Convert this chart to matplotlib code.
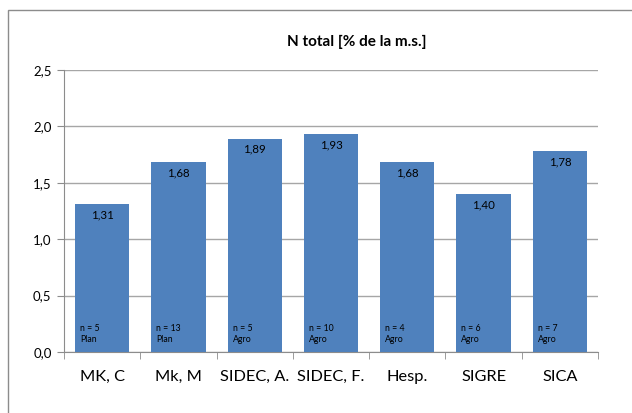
import numpy as np
import matplotlib.pyplot as plt
from matplotlib.patches import Rectangle

# data
categories = ["MK, C", "Mk, M", "SIDEC, A.", "SIDEC, F.", "Hesp.", "SIGRE", "SICA"]
values = [1.31, 1.68, 1.89, 1.93, 1.68, 1.40, 1.78]
n_samples = [5, 13, 5, 10, 4, 6, 7]
groups = ["Plan", "Plan", "Agro", "Agro", "Agro", "Agro", "Agro"]
y_ticks = [0.0, 0.5, 1.0, 1.5, 2.0, 2.5]

plt.rcParams["font.family"] = ["Lato", "DejaVu Sans"]

fig = plt.figure(figsize=(6.32, 4.13), dpi=100)
ax = fig.add_axes([64 / 632, 1 - 352 / 413, (598 - 64) / 632, (352 - 70) / 413])

# outer chart border (left/top only visible)
fig.patches.append(Rectangle((8 / 632, -0.1), 1.2, 1 - 10 / 413 + 0.1,
                             transform=fig.transFigure, fill=False,
                             edgecolor="#8c8c8c", linewidth=1.0))

x = np.arange(len(categories))
ax.bar(x, values, width=0.71, color="#4F81BD", zorder=3)

ax.set_xlim(-0.5, len(categories) - 0.5)
ax.set_ylim(0, 2.5)
ax.set_yticks(y_ticks)
ax.set_yticklabels([f"{v:.1f}".replace(".", ",") for v in y_ticks], fontsize=9.5)
ax.yaxis.grid(True, color="#a6a6a6", linewidth=1.0, zorder=0)

ax.set_xticks(x)
ax.set_xticklabels(categories, fontsize=11.8)
ax.set_xticks(np.arange(-0.5, len(categories)), minor=True)
ax.tick_params(axis="x", which="major", length=0, pad=13)
ax.tick_params(axis="x", which="minor", length=5, color="#8c8c8c", direction="out")
ax.tick_params(axis="y", length=5, color="#8c8c8c", pad=4)

for side in ["top", "right"]:
    ax.spines[side].set_visible(False)
for side in ["left", "bottom"]:
    ax.spines[side].set_color("#8c8c8c")

for xi, v, n, g in zip(x, values, n_samples, groups):
    ax.text(xi, v - 0.045, f"{v:.2f}".replace(".", ","), ha="center", va="top",
            fontsize=8.3, color="black", zorder=4)
    ax.text(xi - 0.29, 0.21, f"n = {n}", ha="left", va="center",
            fontsize=6.3, color="black", zorder=4)
    ax.text(xi - 0.29, 0.11, g, ha="left", va="center",
            fontsize=6.3, color="black", zorder=4)

fig.text(357 / 632, 1 - 42 / 413, "N total [% de la m.s.]", ha="center", va="center",
         fontsize=11, fontweight="bold")

fig.savefig("out.png", dpi=100)
